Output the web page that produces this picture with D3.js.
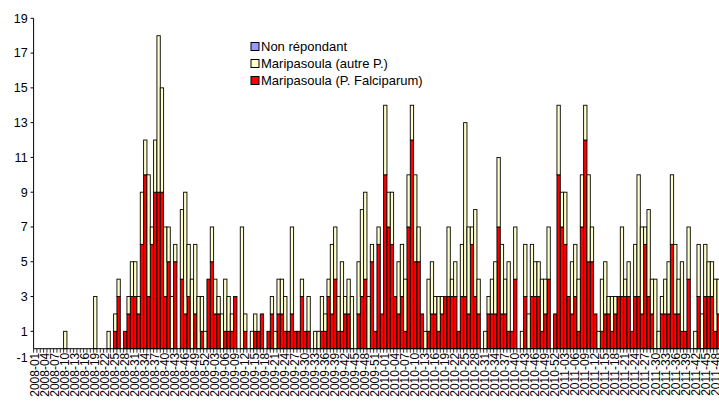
<!DOCTYPE html>
<html>
<head>
<meta charset="utf-8">
<script src="https://cdn.jsdelivr.net/npm/d3@7"></script>
<style>
  body { margin: 0; background: #fff; }
  svg { display: block; }
  text { font-family: Arial, "Liberation Sans", sans-serif; fill: #000; }
</style>
</head>
<body>
<div id="chart"></div>
<script>
const chart_w = 719;
const chart_h = 403;

// weeks shown for each year (2009 has 53 ISO weeks, 2011 is cut at week 49)
const years = [2008, 2009, 2010, 2011];
const weeks_per_year = [52, 53, 52, 49];

// Maripasoula (P. Falciparum), one value per week
const falciparum = [
    // 2008
    0,0,0,0,0,0,0,0,0,0, 0,0,0,0,0,0,0,0,0,0, 0,0,0,0,1,3,0,1,2,3,
    3,2,6,10,3,6,9,9,9,3, 5,0,5,0,4,2,3,0,2,0, 1,0,
    // 2009
    4,5,2,2,0,1,1,1,3,0, 0,1,0,0,1,1,2,0,1,2, 0,2,2,1,1,2,1,1,3,1,
    1,0,0,0,1,1,3,2,4,1, 1,2,2,0,0,2,3,4,0,5, 1,6,2,
    // 2010
    10,7,6,3,2,3,1,7,12,5, 5,2,0,1,2,2,1,2,3,3, 3,3,1,3,3,2,6,3,2,0,
    0,2,2,2,7,2,2,1,1,4, 0,0,3,0,3,3,3,1,2,4, 0,2,
    // 2011
    10,7,6,3,2,3,1,7,12,5, 5,2,0,1,2,2,1,2,3,3, 3,3,1,3,3,2,6,3,2,0,
    0,2,2,2,6,2,2,1,1,4, 0,0,3,0,3,3,3,1,2
];

// Maripasoula (autre P.)
const autre = [
    // 2008
    0,0,0,0,0,0,0,0,0,1, 0,0,0,0,0,0,0,0,3,0, 0,0,1,0,1,1,0,0,1,2,
    2,1,3,2,7,1,3,9,6,4, 2,3,1,0,4,7,3,4,4,3, 2,1,
    // 2009
    0,2,2,1,2,3,2,1,0,0, 7,1,0,1,1,0,0,0,0,1, 1,2,2,2,0,5,0,0,1,0,
    2,0,1,1,2,1,1,4,3,2, 4,1,2,3,0,3,5,5,3,1, 0,1,0,
    // 2010
    4,2,3,0,3,3,3,3,2,5, 2,0,1,3,3,1,2,1,0,4, 1,2,0,3,10,5,1,5,2,0,
    1,1,2,3,4,4,2,4,0,3, 0,1,3,2,3,2,2,3,2,3, 0,0,
    // 2011
    4,2,3,0,3,3,3,3,2,5, 2,0,1,3,3,1,2,1,0,4, 1,2,0,3,7,5,1,5,2,4,
    1,1,2,3,4,4,2,4,0,3, 0,1,3,2,3,2,2,3,2
];

// Non répondant (no case in the period)
const non_repondant = [
    0,0,0,0,0,0,0,0,0,0, 0,0,0,0,0,0,0,0,0,0, 0,0,0,0,0,0,0,0,0,0,
    0,0,0,0,0,0,0,0,0,0, 0,0,0,0,0,0,0,0,0,0, 0,0,
    0,0,0,0,0,0,0,0,0,0, 0,0,0,0,0,0,0,0,0,0, 0,0,0,0,0,0,0,0,0,0,
    0,0,0,0,0,0,0,0,0,0, 0,0,0,0,0,0,0,0,0,0, 0,0,0,
    0,0,0,0,0,0,0,0,0,0, 0,0,0,0,0,0,0,0,0,0, 0,0,0,0,0,0,0,0,0,0,
    0,0,0,0,0,0,0,0,0,0, 0,0,0,0,0,0,0,0,0,0, 0,0,
    0,0,0,0,0,0,0,0,0,0, 0,0,0,0,0,0,0,0,0,0, 0,0,0,0,0,0,0,0,0,0,
    0,0,0,0,0,0,0,0,0,0, 0,0,0,0,0,0,0,0,0
];

const y_ticks = [-1, 1, 3, 5, 7, 9, 11, 13, 15, 17, 19];

const series = [
    {key: "falciparum", label: "Maripasoula (P. Falciparum)", color: "#ff0000"},
    {key: "autre", label: "Maripasoula (autre P.)", color: "#ffffcc"},
    {key: "non_rep", label: "Non répondant", color: "#9999ff"}
];

//week labels like 2008-01
function buildWeeks() {
    var arr = [];
    for(var i=0; i < years.length; i++) {
        for(var w=1; w <= weeks_per_year[i]; w++) {
            arr.push(years[i] + "-" + (w < 10 ? "0" + w : w));
        }
    }
    return arr;
}

function drawChart() {
    var weeks = buildWeeks();
    var rows = weeks.map((wk, i) => {
        return {week: wk, falciparum: falciparum[i], autre: autre[i], non_rep: non_repondant[i]};
    });

    var svg = d3.select("#chart").append("svg")
        .attr("width", chart_w)
        .attr("height", chart_h);

    var x = d3.scaleBand()
        .domain(weeks)
        .range([33.6, 720.3])
        .padding(0);

    var y = d3.scaleLinear()
        .domain([-1, 19])
        .range([366.1, 18.3]);

    var stacked = d3.stack().keys(series.map(s => s.key))(rows);

    //bars
    svg.append("g").selectAll("g")
        .data(stacked)
        .enter()
        .append("g")
        .attr("fill", (d, i) => series[i].color)
        .selectAll("rect")
        .data(d => d.filter(p => p[1] > p[0]))
        .enter()
        .append("rect")
        .attr("x", d => x(d.data.week))
        .attr("y", d => y(d[1]))
        .attr("width", x.bandwidth())
        .attr("height", d => y(d[0]) - y(d[1]))
        .attr("stroke", "#000")
        .attr("stroke-width", 0.9);

    //y axis: line from 0 up, labels on odd values
    var x0 = x.range()[0];
    svg.append("line")
        .attr("x1", x0).attr("x2", x0)
        .attr("y1", y(0)).attr("y2", y(19))
        .attr("stroke", "#000");
    svg.append("g").selectAll("line")
        .data(y_ticks.filter(t => t > 0))
        .enter()
        .append("line")
        .attr("x1", x0 - 3).attr("x2", x0)
        .attr("y1", d => y(d)).attr("y2", d => y(d))
        .attr("stroke", "#000");
    svg.append("g").selectAll("text")
        .data(y_ticks)
        .enter()
        .append("text")
        .attr("x", x0 - 6)
        .attr("y", d => d < 0 ? y(-0.5) : y(d))
        .attr("dy", "0.35em")
        .attr("text-anchor", "end")
        .style("font-size", "12.5px")
        .text(d => d);

    //x axis at zero
    svg.append("line")
        .attr("x1", x0).attr("x2", x.range()[1])
        .attr("y1", y(0)).attr("y2", y(0))
        .attr("stroke", "#000");
    svg.append("g").selectAll("line")
        .data(weeks)
        .enter()
        .append("line")
        .attr("x1", d => x(d)).attr("x2", d => x(d))
        .attr("y1", y(0)).attr("y2", y(0) + 4)
        .attr("stroke", "#000")
        .attr("stroke-width", 0.8);
    svg.append("g").selectAll("text")
        .data(weeks.filter((d, i) => i % 3 == 0))
        .enter()
        .append("text")
        .attr("transform", d => "translate(" + (x(d) + x.bandwidth() / 2) + "," + (y(0) + 4) + ") rotate(-90)")
        .attr("dy", "0.35em")
        .attr("text-anchor", "end")
        .style("font-size", "12px")
        .text(d => d);

    //legend, top entry is the last series
    var legend = svg.append("g").selectAll("g")
        .data(series.slice().reverse())
        .enter()
        .append("g")
        .attr("transform", (d, i) => "translate(251," + (46.5 + i * 17) + ")");
    legend.append("rect")
        .attr("x", 0).attr("y", -4)
        .attr("width", 8).attr("height", 8)
        .attr("fill", d => d.color)
        .attr("stroke", "#000");
    legend.append("text")
        .attr("x", 10)
        .attr("dy", "0.35em")
        .style("font-size", "13px")
        .text(d => d.label);
}

drawChart();
</script>
</body>
</html>
